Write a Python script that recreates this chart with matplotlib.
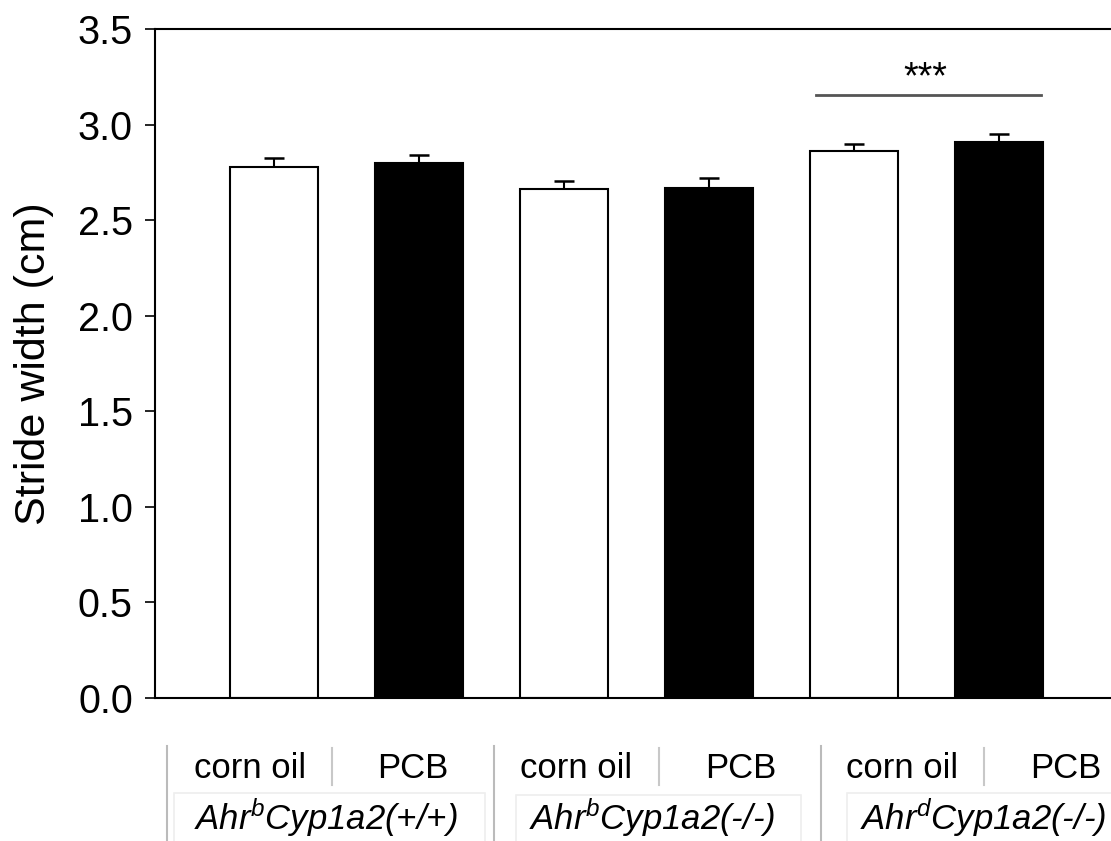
import matplotlib.pyplot as plt
import matplotlib.patches as mpatches
from matplotlib.lines import Line2D

plt.rcParams['font.family'] = ['Liberation Sans', 'DejaVu Sans']
plt.rcParams['mathtext.fontset'] = 'custom'
plt.rcParams['mathtext.it'] = 'Liberation Sans:italic'
plt.rcParams['mathtext.rm'] = 'Liberation Sans'

# data
genotypes = [r'Ahr$^{b}$Cyp1a2(+/+)', r'Ahr$^{b}$Cyp1a2(-/-)', r'Ahr$^{d}$Cyp1a2(-/-)']
treatments = ['corn oil', 'PCB']
means = [2.78, 2.80, 2.66, 2.67, 2.86, 2.91]
sems = [0.045, 0.04, 0.045, 0.052, 0.04, 0.043]
sig_pair = (4, 5)
sig_label = '***'

W, H = 1111, 841
fig = plt.figure(figsize=(W / 100, H / 100), dpi=100)
ax = fig.add_axes([155 / W, 1 - 697.7 / H, 967 / W, 668.7 / H])

x = list(range(len(means)))
colors = ['white' if i % 2 == 0 else 'black' for i in x]
ax.bar(x, means, width=0.607, color=colors, edgecolor='black', linewidth=1.5, zorder=2)
ax.errorbar(x, means, yerr=[[0] * len(sems), sems], fmt='none', ecolor='black',
            elinewidth=1.5, capsize=7, capthick=1.8, zorder=1)

ax.set_xlim(-0.82, -0.82 + 967 / 145)
ax.set_ylim(0, 3.5)
ax.set_yticks([0, 0.5, 1.0, 1.5, 2.0, 2.5, 3.0, 3.5])
ax.set_yticklabels([f'{v:.1f}' for v in ax.get_yticks()], fontsize=28.5)
ax.tick_params(axis='y', direction='out', length=7, width=1.2, pad=9)
ax.set_xticks([])
ax.spines['right'].set_visible(False)
for s in ['left', 'top', 'bottom']:
    ax.spines[s].set_linewidth(1.5)
ax.set_ylabel('Stride width (cm)', fontsize=31, labelpad=17)

# significance bar
a, b = sig_pair
ax.plot([a - 0.26, b + 0.29], [3.157, 3.157], color='#555555', lw=2)
ax.text((a + b) / 2 - 0.01, 3.19, sig_label, ha='center', va='baseline', fontsize=27)

# category labels below the axes (pasted table-like legend)
def px(xp, yp):
    return xp / W, 1 - yp / H

corn_x = [250, 576, 902]
pcb_x = [413, 741, 1066]
geno_x = [326, 652, 983]
for i in range(3):
    fig.text(*px(corn_x[i], 778), treatments[0], ha='center', va='baseline', fontsize=25)
    fig.text(*px(pcb_x[i], 778), treatments[1], ha='center', va='baseline', fontsize=25)
    fig.text(*px(geno_x[i], 830), genotypes[i], ha='center', va='baseline', fontsize=25,
             style='italic')

for xs in [167, 494, 821]:
    fig.add_artist(Line2D([xs / W, xs / W], [1 - 746 / H, 0], color='#bbbbbb', lw=1.5))
for xs in [332, 659, 984]:
    fig.add_artist(Line2D([xs / W, xs / W], [1 - 748 / H, 1 - 785 / H], color='#c8c8c8', lw=1.5))
for x0, x1, yt in [(174, 485, 793), (516, 801, 795), (847, 1120, 793)]:
    fig.add_artist(mpatches.Rectangle((x0 / W, -0.01), (x1 - x0) / W, 1.01 - yt / H,
                                      facecolor='none', edgecolor='#eeeeee', lw=1.2))

fig.savefig('out.png', dpi=100)
